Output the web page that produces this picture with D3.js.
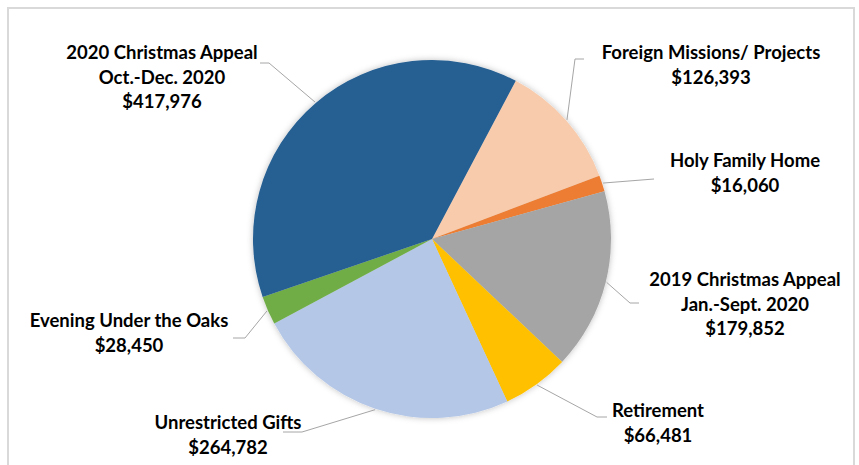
<!DOCTYPE html>
<html>
<head>
<meta charset="utf-8">
<script src="https://cdn.jsdelivr.net/npm/d3@7"></script>
<style>
  body { margin: 0; background: #fff; }
  text { font-family: Lato, "Open Sans", sans-serif; font-weight: bold; fill: #000; }
</style>
</head>
<body>
<div id="chart"></div>
<script>
// Donations by source, clockwise from the top-right slice
var categories = ["Foreign Missions/ Projects", "Holy Family Home", "2019 Christmas Appeal|Jan.-Sept. 2020",
                  "Retirement", "Unrestricted Gifts", "Evening Under the Oaks", "2020 Christmas Appeal|Oct.-Dec. 2020"]
var values = [126393, 16060, 179852, 66481, 264782, 28450, 417976]
var colors = ["#F8CBAD", "#ED7D31", "#A5A5A5", "#FFC000", "#B4C7E7", "#70AD47", "#255E91"]

// label centre and leader line end points (label side) for each slice
var label_pos = [
  {x: 711, y: 53, lx: [584, 575]},
  {x: 745, y: 161, lx: [654, 654]},
  {x: 745, y: 280, lx: [639, 630]},
  {x: 658, y: 411, lx: [607, 597]},
  {x: 228, y: 423, lx: [283, 302]},
  {x: 129, y: 321, lx: [233, 245]},
  {x: 162, y: 53, lx: [260, 269]}
]
var label_ly = [59, 179, 303, 417, 432, 338, 63]

var width = 859
var height = 465
var cx = 432
var cy = 239
var radius = 179
var start_angle = 27.9 * Math.PI / 180

var fmt = d3.format("$,")

var svg = d3.select("#chart").append("svg")
    .attr("width", width)
    .attr("height", height)

svg.append("rect")
    .attr("x", 8).attr("y", 8)
    .attr("width", 846).attr("height", 470)
    .attr("fill", "#fff")
    .attr("stroke", "#D9D9D9")
    .attr("stroke-width", 2)

var defs = svg.append("defs")
var filter = defs.append("filter").attr("id", "shadow")
    .attr("x", "-10%").attr("y", "-10%").attr("width", "120%").attr("height", "120%")
filter.append("feDropShadow")
    .attr("dx", 0).attr("dy", 0)
    .attr("stdDeviation", 3)
    .attr("flood-color", "#000")
    .attr("flood-opacity", 0.25)

var pie = d3.pie().sort(null)
    .startAngle(start_angle)
    .endAngle(start_angle + 2 * Math.PI)

var arcs = pie(values)
var arc = d3.arc().innerRadius(0).outerRadius(radius)

var g = svg.append("g")
    .attr("transform", "translate(" + cx + "," + cy + ")")

g.append("g").attr("filter", "url(#shadow)")
  .selectAll("path")
    .data(arcs)
    .enter()
    .append("path")
    .attr("d", arc)
    .attr("fill", function(d, i) { return colors[i] })

// leader lines: from the label, to a point just outside the pie edge
var edge = d3.arc().innerRadius(radius + 1).outerRadius(radius + 1)
svg.append("g").selectAll("polyline")
    .data(arcs)
    .enter()
    .append("polyline")
    .attr("fill", "none")
    .attr("stroke", "#A6A6A6")
    .attr("stroke-width", 1)
    .attr("points", function(d, i) {
        var c = edge.centroid(d)
        var p = label_pos[i]
        return [[p.lx[0], label_ly[i]], [p.lx[1], label_ly[i]], [cx + c[0], cy + c[1]]].join(" ")
    })

var labels = svg.append("g").selectAll("text")
    .data(arcs)
    .enter()
    .append("text")
    .attr("text-anchor", "middle")
    .attr("font-size", "18.5px")
    .attr("x", function(d, i) { return label_pos[i].x })
    .attr("y", function(d, i) { return label_pos[i].y })

labels.each(function(d, i) {
    var lines = categories[i].split("|").concat([fmt(values[i])])
    var t = d3.select(this)
    lines.forEach(function(line, j) {
        t.append("tspan")
            .attr("x", label_pos[i].x)
            .attr("dy", j === 0 ? "0.35em" : 24.5)
            .text(line)
    })
})
</script>
</body>
</html>
